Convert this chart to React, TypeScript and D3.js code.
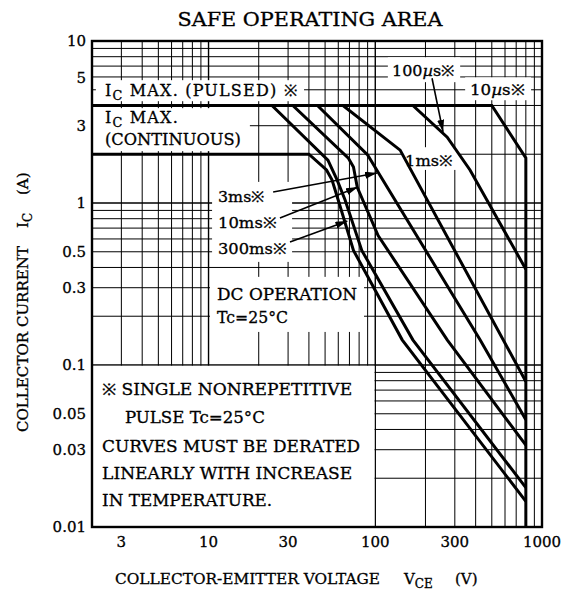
import React, { useRef, useEffect } from "react";
import * as d3 from "d3";

type Pt = [number, number];

// SOA boundaries, [V_CE (V), I_C (A)]
const dcOperation: Pt[] = [[2, 2], [40, 2], [51, 1.6], [55, 1.39], [60, 1.04], [74, 0.51], [145, 0.143], [800, 0.0144]];
const pulse300ms: Pt[] = [[2, 4], [24, 4], [52, 1.84], [59, 1.39], [66, 1.04], [83, 0.51], [168, 0.143], [800, 0.0175]];
const pulse10ms: Pt[] = [[2, 4], [32, 4], [69, 1.89], [74, 1.67], [78, 1.25], [104, 0.63], [270, 0.143], [800, 0.032]];
const pulse3ms: Pt[] = [[2, 4], [45, 4], [90, 1.98], [104, 1.55], [425, 0.143], [800, 0.046]];
const pulse1ms: Pt[] = [[2, 4], [64, 4], [141, 2.12], [800, 0.079]];
const pulse100us: Pt[] = [[2, 4], [168, 4], [270, 2.55], [370, 1.6], [800, 0.39]];
const pulse10us: Pt[] = [[2, 4], [500, 4], [800, 1.9], [800, 0.01]];

const curves = [dcOperation, pulse300ms, pulse10ms, pulse3ms, pulse1ms, pulse100us, pulse10us];

const xTickLabels = [3, 10, 30, 100, 300, 1000];
const yTickLabels = [10, 5, 3, 1, 0.5, 0.3, 0.1, 0.05, 0.03, 0.01];

// annotation layout, in data units
const whiteBoxes = [
  [2.11, 37.4, 4.25, 5.73],   // IC MAX. (PULSED)
  [2.0, 17.7, 2.09, 3.85],    // IC MAX. (CONTINUOUS)
  [119, 323, 5.57, 7.94],     // 100us
  [346, 860, 4.31, 5.97],     // 10us
  [147, 314, 1.6, 2.21],      // 1ms
  [10.5, 31.7, 0.433, 1.35],  // 3ms / 10ms / 300ms
  [10.2, 85.6, 0.16, 0.35],   // DC OPERATION
];

// pieces: [text, italic]
const plainLabels: { v: number; i: number; parts: [string, boolean][]; len: number; size: number }[] = [
  { v: 126, i: 6.06, parts: [["100", false], ["µ", true], ["s※", false]], len: 63, size: 15 },
  { v: 370, i: 4.63, parts: [["10", false], ["µ", true], ["s※", false]], len: 55, size: 15 },
  { v: 151, i: 1.69, parts: [["1ms※", false]], len: 48, size: 15 },
  { v: 11.4, i: 1.01, parts: [["3ms※", false]], len: 47, size: 15 },
  { v: 11.4, i: 0.70, parts: [["10ms※", false]], len: 59, size: 15 },
  { v: 11.4, i: 0.485, parts: [["300ms※", false]], len: 69, size: 15 },
  { v: 11.25, i: 0.253, parts: [["DC OPERATION", false]], len: 140, size: 16 },
  { v: 11.25, i: 0.182, parts: [["Tc=25°C", false]], len: 71, size: 16 },
  { v: 2.3, i: 0.0656, parts: [["※ SINGLE NONREPETITIVE", false]], len: 250, size: 16 },
  { v: 3.15, i: 0.0441, parts: [["PULSE Tc=25°C", false]], len: 140, size: 16 },
  { v: 2.3, i: 0.0292, parts: [["CURVES MUST BE DERATED", false]], len: 258, size: 16 },
  { v: 2.3, i: 0.01965, parts: [["LINEARLY WITH INCREASE", false]], len: 250, size: 16 },
  { v: 2.3, i: 0.01339, parts: [["IN TEMPERATURE.", false]], len: 170, size: 16 },
];

const arrows: { from: Pt; to: Pt }[] = [
  { from: [219, 5.89], to: [255, 2.75] },
  { from: [24.4, 1.17], to: [102.5, 1.53] },
  { from: [26.8, 0.808], to: [78.8, 1.255] },
  { from: [30.8, 0.575], to: [68, 0.775] },
];

const font = "'DejaVu Serif', 'Liberation Serif', serif";
const ink = 0.3; // faint outline so the serif text reads as dark as the original

const SafeOperatingArea = () => {
  const ref = useRef<SVGSVGElement>(null);
  const width = 568;
  const height = 590;
  const left = 92, right = 542, top = 41, bottom = 527;

  useEffect(() => {
    const svg = d3.select(ref.current);
    svg.selectAll("*").remove();

    const x = d3.scaleLog().domain([2, 1000]).range([left, right]);
    const y = d3.scaleLog().domain([0.01, 10]).range([bottom, top]);

    svg.append("defs").append("marker")
      .attr("id", "arrowhead")
      .attr("viewBox", "0 0 12 7")
      .attr("refX", 12).attr("refY", 3.5)
      .attr("markerWidth", 12).attr("markerHeight", 7)
      .attr("markerUnits", "userSpaceOnUse")
      .attr("orient", "auto")
      .append("path").attr("d", "M0,0 L12,3.5 L0,7 Z").attr("fill", "#000");

    // log grid
    const xGrid: number[] = [];
    [1, 10, 100].forEach(d => d3.range(1, 10).forEach(m => {
      const v = m * d;
      if (v > 2 && v < 1000) xGrid.push(v);
    }));
    const yGrid: number[] = [];
    [0.01, 0.1, 1].forEach(d => d3.range(1, 10).forEach(m => {
      const v = +(m * d).toPrecision(3);
      if (v > 0.01 && v < 10) yGrid.push(v);
    }));
    const grid = svg.append("g").attr("stroke", "#000");
    grid.selectAll("line.vx").data(xGrid).join("line")
      .attr("x1", d => x(d)).attr("x2", d => x(d))
      .attr("y1", top).attr("y2", bottom)
      .attr("stroke-width", d => (d === 10 || d === 100 ? 1.4 : 1));
    grid.selectAll("line.hy").data(yGrid).join("line")
      .attr("y1", d => y(d)).attr("y2", d => y(d))
      .attr("x1", left).attr("x2", right)
      .attr("stroke-width", d => (d === 0.1 || d === 1 ? 1.4 : 1));

    // white boxes behind the labels
    svg.append("g").selectAll("rect").data(whiteBoxes).join("rect")
      .attr("x", d => x(d[0])).attr("y", d => y(d[3]))
      .attr("width", d => x(d[1]) - x(d[0]))
      .attr("height", d => y(d[2]) - y(d[3]))
      .attr("fill", "#fff");
    // note box bounded by the 100 V and 0.1 A lines
    svg.append("rect")
      .attr("x", x(2)).attr("y", y(0.1) + 0.8)
      .attr("width", x(100) - x(2) - 0.8)
      .attr("height", y(0.01) - y(0.1) - 0.8)
      .attr("fill", "#fff");

    // SOA curves
    const line = d3.line<Pt>().x(d => x(d[0])).y(d => y(d[1]));
    svg.append("g").selectAll("path").data(curves).join("path")
      .attr("d", d => line(d))
      .attr("fill", "none").attr("stroke", "#000")
      .attr("stroke-width", 3).attr("stroke-linejoin", "miter");

    // frame
    svg.append("rect")
      .attr("x", left).attr("y", top)
      .attr("width", right - left).attr("height", bottom - top)
      .attr("fill", "none").attr("stroke", "#000").attr("stroke-width", 2.4);

    const txt = svg.append("g")
      .attr("font-family", font).attr("fill", "#000")
      .attr("stroke", "#000").attr("stroke-width", ink);

    // tick labels
    txt.append("g").selectAll("text").data(xTickLabels).join("text")
      .attr("x", d => x(d)).attr("y", 547)
      .attr("text-anchor", "middle").attr("font-size", 15)
      .text(d => d);
    txt.append("g").selectAll("text").data(yTickLabels).join("text")
      .attr("x", 86).attr("y", d => y(d) + (d === 5 ? -12 : 0))
      .attr("dy", "0.36em")
      .attr("text-anchor", "end").attr("font-size", 15)
      .text(d => d);

    // text with a subscript
    function subText(px: number, py: number, parts: [string, boolean][], size: number, spacing = 0, rotate = false) {
      const t = txt.append("text")
        .attr("x", px).attr("y", py)
        .attr("font-size", size);
      if (rotate) t.attr("transform", `rotate(-90, ${px}, ${py})`);
      let shifted = false;
      parts.forEach(([s, sub]) => {
        const sp = t.append("tspan").text(s).attr("letter-spacing", spacing);
        if (sub && !shifted) { sp.attr("dy", 4).attr("font-size", size * 0.8); shifted = true; }
        else if (!sub && shifted) { sp.attr("dy", -4); shifted = false; }
      });
      return t;
    }

    subText(x(2.39), y(4.56), [["I", false], ["C", true], [" MAX. (PULSED) ※", false]], 16, 1.2);
    subText(x(2.39), y(3.11), [["I", false], ["C", true], [" MAX.", false]], 16, 1.2);
    txt.append("text").attr("x", x(2.39)).attr("y", y(2.28))
      .attr("font-size", 16)
      .attr("textLength", 136).attr("lengthAdjust", "spacingAndGlyphs")
      .text("(CONTINUOUS)");

    const labelTexts = txt.append("g").selectAll("text").data(plainLabels).join("text")
      .attr("x", d => x(d.v)).attr("y", d => y(d.i))
      .attr("font-size", d => d.size)
      .attr("textLength", d => d.len).attr("lengthAdjust", "spacingAndGlyphs");
    labelTexts.selectAll("tspan").data(d => d.parts).join("tspan")
      .attr("font-style", d => (d[1] ? "italic" : "normal"))
      .text(d => d[0]);

    // arrows
    svg.append("g").selectAll("line").data(arrows).join("line")
      .attr("x1", d => x(d.from[0])).attr("y1", d => y(d.from[1]))
      .attr("x2", d => x(d.to[0])).attr("y2", d => y(d.to[1]))
      .attr("stroke", "#000").attr("stroke-width", 1.6)
      .attr("marker-end", "url(#arrowhead)");

    // titles
    txt.append("text").attr("x", 310).attr("y", 26)
      .attr("text-anchor", "middle").attr("font-size", 18)
      .attr("textLength", 265).attr("lengthAdjust", "spacingAndGlyphs")
      .text("SAFE OPERATING AREA");
    txt.append("text").attr("x", 115).attr("y", 584)
      .attr("font-size", 15)
      .attr("textLength", 265).attr("lengthAdjust", "spacingAndGlyphs")
      .text("COLLECTOR-EMITTER VOLTAGE");
    subText(404, 584, [["V", false], ["CE", true]], 15);
    txt.append("text").attr("x", 455).attr("y", 584)
      .attr("font-size", 15).text("(V)");

    // rotated y title, pieces laid out along the axis
    txt.append("text").attr("x", 28).attr("y", 432)
      .attr("transform", "rotate(-90, 28, 432)")
      .attr("font-size", 15)
      .attr("textLength", 186).attr("lengthAdjust", "spacingAndGlyphs")
      .text("COLLECTOR CURRENT");
    subText(28, 228, [["I", false], ["C", true]], 15, 0, true);
    txt.append("text").attr("x", 28).attr("y", 195)
      .attr("transform", "rotate(-90, 28, 195)")
      .attr("font-size", 15).text("(A)");
  });

  return (
    <svg ref={ref} width={width} height={height}
      style={{ position: "absolute", left: 0, top: 0, background: "#fff" }} />
  );
};

export default function App() {
  return <SafeOperatingArea />;
}
